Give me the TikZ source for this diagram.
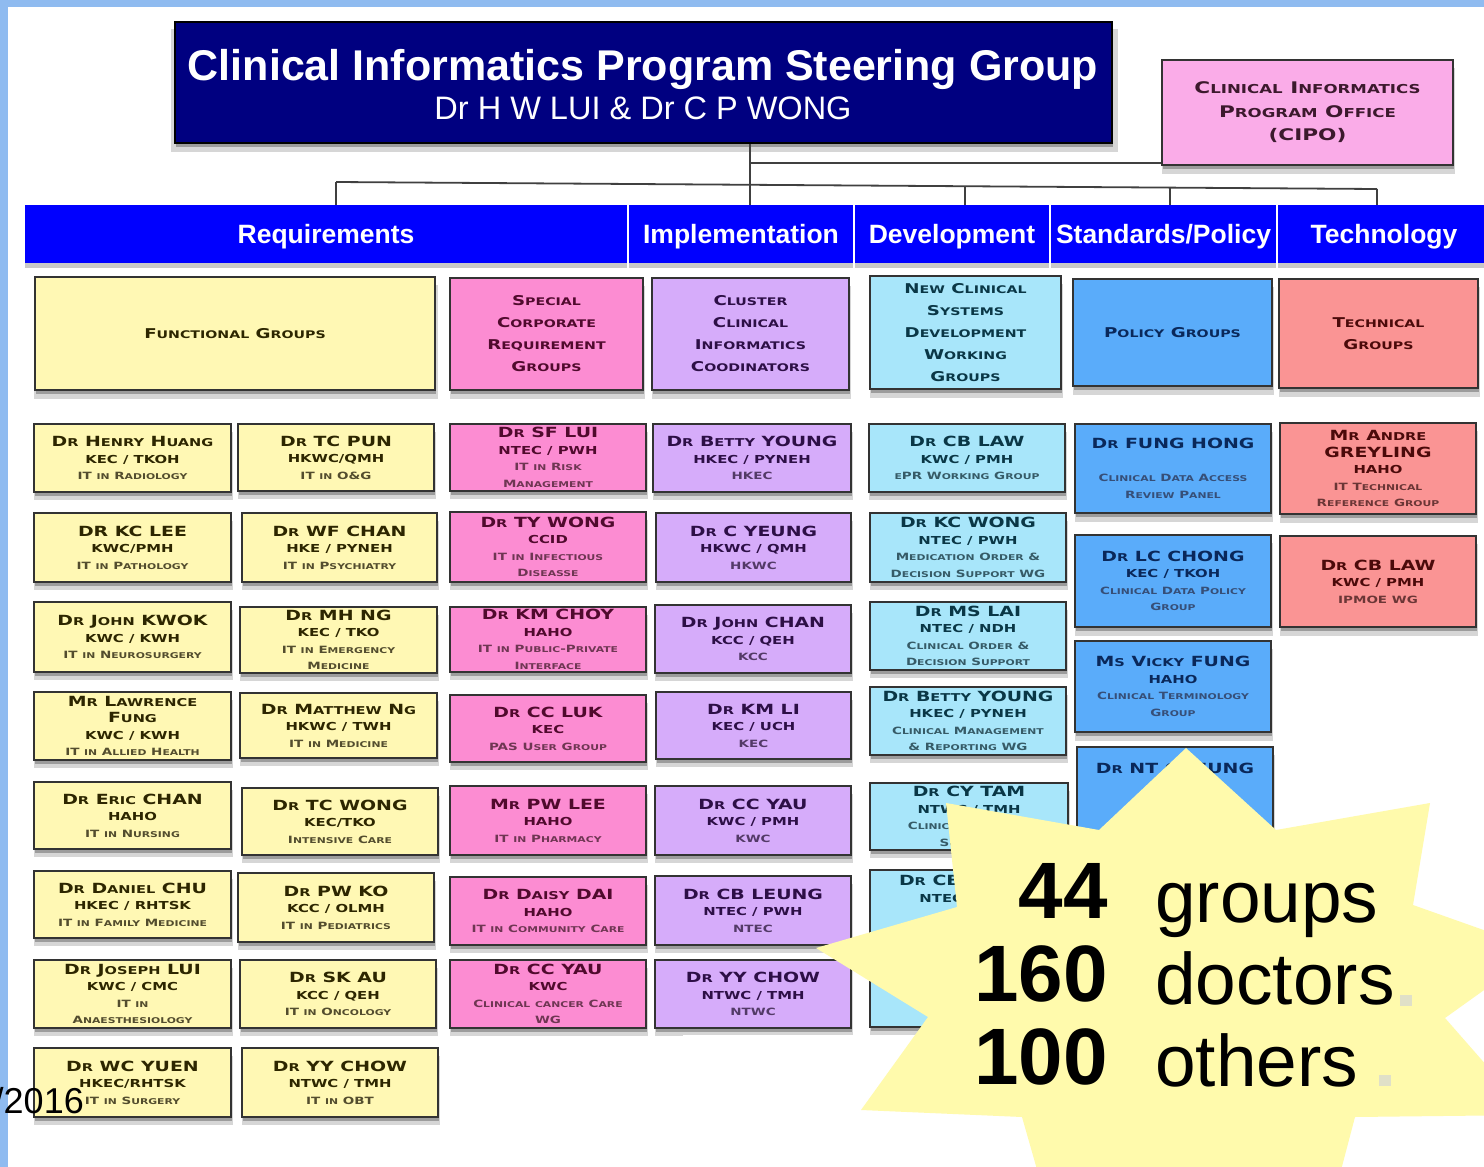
\documentclass[tikz,border=0pt]{standalone}
\usepackage{fontspec}
\setmainfont{Liberation Sans}
\newfontfamily\cpfont{DejaVu Sans}[FakeStretch=1.35]
\usetikzlibrary{shadows,calc}

% palette
\definecolor{frameblue}{RGB}{143,187,240}
\definecolor{navy}{RGB}{0,0,128}
\definecolor{barblue}{RGB}{0,0,255}
\definecolor{cYel}{RGB}{255,248,180}\definecolor{tYel}{RGB}{45,38,0}
\definecolor{cPnk}{RGB}{252,140,210}\definecolor{tPnk}{RGB}{80,10,45}
\definecolor{cLav}{RGB}{214,172,250}\definecolor{tLav}{RGB}{45,15,70}
\definecolor{cCyn}{RGB}{168,230,250}\definecolor{tCyn}{RGB}{10,55,70}
\definecolor{cBlu}{RGB}{90,172,250}\definecolor{tBlu}{RGB}{10,40,90}
\definecolor{cSal}{RGB}{250,148,148}\definecolor{tSal}{RGB}{75,10,10}
\definecolor{cCipo}{RGB}{250,172,232}\definecolor{tCipo}{RGB}{60,25,45}
\definecolor{starfill}{RGB}{255,250,172}
\definecolor{dotgrey}{RGB}{224,224,200}

% small-caps emulation: capitals stay full size, lower case letters
% are set as smaller capitals
\def\Sc#1{\scW#1 \scEnd}
\def\scW#1 #2\scEnd{\scC#1\scEnd\ifx\relax#2\relax\else\space\scW#2\scEnd\fi}
\def\scC#1#2\scEnd{%
  \ifcat a\noexpand#1%
    \ifnum`#1=\lccode`#1\relax{\scsm\uppercase{#1}}\else#1\fi
  \else#1\fi
  \ifx\relax#2\relax\else\scC#2\scEnd\fi}
\def\bls{16.5}
\newcommand\Lx[3]{{\fontsize{#1}{\bls}\selectfont\def\scsm{\fontsize{#2}{\bls}\selectfont}\Sc{#3}}}
\newcommand\La[1]{\Lx{14}{10.8}{#1}}
\newcommand\Lb[1]{\Lx{11}{8.6}{#1}}
\newcommand\Lc[1]{{\color{.!82!white}\Lx{10}{8}{#1}}}
\newcommand\Lh[1]{\Lx{13.5}{10.5}{#1}}

% a box given by its corners
\newcommand\card[7]{%
  \pgfmathsetmacro\cw{#5-#3}%
  \pgfmathsetmacro\ch{#6-#4}%
  \node[#2, minimum width=\cw pt, minimum height=\ch pt] (#1) at ({(#3+#5)/2},{(#4+#6)/2}) {#7};}

\begin{document}
\begin{tikzpicture}[x=1pt,y=-1pt,
  shd/.style={drop shadow={shadow xshift=1pt, shadow yshift=-4pt, opacity=.38, fill=black!70},
              drop shadow={shadow xshift=1pt, shadow yshift=-8pt, opacity=.16, fill=black, shadow scale=1.01}},
  card/.style={draw=black!80, line width=1.8pt, shd, inner sep=0pt, align=center,
               font={\cpfont\bfseries\fontsize{11}{16.5}\selectfont}},
  hdr/.style={card, font={\cpfont\bfseries\fontsize{13.5}{22}\selectfont\def\bls{22}}},
  yel/.style={card, fill=cYel, text=tYel},
  pnk/.style={card, fill=cPnk, text=tPnk},
  lav/.style={card, fill=cLav, text=tLav},
  cyn/.style={card, fill=cCyn, text=tCyn},
  blu/.style={card, fill=cBlu, text=tBlu},
  sal/.style={card, fill=cSal, text=tSal},
  bar/.style={fill=barblue, text=white, inner sep=0pt, text height=19pt, text depth=1pt,
              font=\bfseries\fontsize{26.5}{27}\selectfont,
              drop shadow={shadow xshift=0pt, shadow yshift=-5pt, opacity=.3, fill=black!70}},
  conn/.style={draw=black!75, line width=1.8pt},
  big/.style={inner sep=0pt, text=black}
]
\useasboundingbox (0,0) rectangle (1484,1167);
\fill[white] (0,0) rectangle (1484,1167);
\fill[frameblue] (0,0) rectangle (1484,7);
\fill[frameblue] (0,0) rectangle (8,1167);

% steering group and programme office
\card{title}{draw=black, line width=1.8pt, fill=navy, shd}{175}{22}{1112}{143}{}
\node[anchor=base, text=white, font=\bfseries\fontsize{43}{43}\selectfont] (ttl) at (643,80)
  {Clinical Informatics Program Steering Group};
\node[anchor=base, text=white, font=\fontsize{32.5}{33}\selectfont] (sub) at (643,119)
  {Dr H W LUI \& Dr C P WONG};
\card{cipo}{card, fill=cCipo, text=tCipo, font={\cpfont\bfseries\fontsize{16}{23.5}\selectfont\def\bls{23.5}}}{1162}{60}{1453}{165}
  {\Lx{16}{12.3}{Clinical Informatics}\\\Lx{16}{12.3}{Program Office}\\\Lx{16}{12.3}{(CIPO)}}

% section bar
\card{req}{bar}{25}{205}{627}{263}{Requirements}
\card{imp}{bar}{629}{205}{853}{263}{Implementation}
\card{dev}{bar}{855}{205}{1049}{263}{Development}
\card{std}{bar}{1051}{205}{1276}{263}{Standards/Policy}
\card{tech}{bar}{1278}{205}{1490}{263}{Technology}

% connectors
\coordinate (jc) at (750,163);
\coordinate (busL) at (336,182);
\coordinate (busR) at (1377,189);
\coordinate (bd) at (965,186.2);
\coordinate (bs) at (1170,187.6);
\draw[conn] (title.south -| jc) -- (jc |- imp.north);
\draw[conn] (jc) -- (jc -| cipo.west);
\draw[conn] (busL) -- (busR);
\draw[conn] (busL) -- (busL |- req.north);
\draw[conn] (bd) -- (bd |- dev.north);
\draw[conn] (bs) -- (bs |- std.north);
\draw[conn] (busR) -- (busR |- tech.north);

% group headings
\card{fg}{hdr, fill=cYel, text=tYel}{35}{277}{435}{390}{\Lh{Functional Groups}}
\card{scr}{hdr, fill=cPnk, text=tPnk}{450}{278}{643}{390}{\Lh{Special}\\\Lh{Corporate}\\\Lh{Requirement}\\\Lh{Groups}}
\card{ccic}{hdr, fill=cLav, text=tLav}{652}{278}{849}{390}{\Lh{Cluster}\\\Lh{Clinical}\\\Lh{Informatics}\\\Lh{Coodinators}}
\card{ncs}{hdr, fill=cCyn, text=tCyn}{870}{276}{1061}{389}{\Lh{New Clinical}\\\Lh{Systems}\\\Lh{Development}\\\Lh{Working}\\\Lh{Groups}}
\card{pg}{hdr, fill=cBlu, text=tBlu}{1073}{279}{1272}{386}{\Lh{Policy Groups}}
\card{tg}{hdr, fill=cSal, text=tSal}{1279}{279}{1478}{388}{\Lh{Technical}\\\Lh{Groups}}

% functional groups
\card{hh}{yel}{34}{424}{231}{492}{\La{Dr Henry Huang}\\\Lb{KEC / TKOH}\\\Lc{IT in Radiology}}
\card{kcl}{yel}{34}{513}{231}{582}{\La{DR KC LEE}\\\Lb{KWC/PMH}\\\Lc{IT in Pathology}}
\card{jk}{yel}{34}{602}{231}{672}{\La{Dr John KWOK}\\\Lb{KWC / KWH}\\\Lc{IT in Neurosurgery}}
\card{lf}{yel}{34}{692}{231}{760}{\La{Mr Lawrence}\\\La{Fung}\\\Lb{KWC / KWH}\\\Lc{IT in Allied Health}}
\card{ec}{yel}{34}{782}{231}{849}{\La{Dr Eric CHAN}\\\Lb{HAHO}\\\Lc{IT in Nursing}}
\card{dc}{yel}{34}{871}{231}{938}{\La{Dr Daniel CHU}\\\Lb{HKEC / RHTSK}\\\Lc{IT in Family Medicine}}
\card{jl}{yel}{34}{960}{231}{1028}{\La{Dr Joseph LUI}\\\Lb{KWC / CMC}\\\Lc{IT in}\\\Lc{Anaesthesiology}}
\card{wcy}{yel}{34}{1048}{231}{1117}{\La{Dr WC YUEN}\\\Lb{HKEC/RHTSK}\\\Lc{IT in Surgery}}
\card{tcp}{yel}{238}{424}{434}{491}{\La{Dr TC PUN}\\\Lb{HKWC/QMH}\\\Lc{IT in O\&G}}
\card{wfc}{yel}{242}{513}{437}{582}{\La{Dr WF CHAN}\\\Lb{HKE / PYNEH}\\\Lc{IT in Psychiatry}}
\card{mhn}{yel}{240}{607}{437}{673}{\La{Dr MH NG}\\\Lb{KEC / TKO}\\\Lc{IT in Emergency}\\\Lc{Medicine}}
\card{mn}{yel}{240}{693}{437}{758}{\La{Dr Matthew Ng}\\\Lb{HKWC / TWH}\\\Lc{IT in Medicine}}
\card{tcw}{yel}{242}{788}{438}{855}{\La{Dr TC WONG}\\\Lb{KEC/TKO}\\\Lc{Intensive Care}}
\card{pwk}{yel}{238}{873}{434}{942}{\La{Dr PW KO}\\\Lb{KCC / OLMH}\\\Lc{IT in Pediatrics}}
\card{ska}{yel}{240}{960}{436}{1028}{\La{Dr SK AU}\\\Lb{KCC / QEH}\\\Lc{IT in Oncology}}
\card{yyc}{yel}{242}{1048}{438}{1117}{\La{Dr YY CHOW}\\\Lb{NTWC / TMH}\\\Lc{IT in OBT}}

% special corporate requirement groups
\card{sfl}{pnk}{450}{424}{646}{491}{\La{Dr SF LUI}\\\Lb{NTEC / PWH}\\\Lc{IT in Risk}\\\Lc{Management}}
\card{tyw}{pnk}{450}{512}{646}{582}{\La{Dr TY WONG}\\\Lb{CCID}\\\Lc{IT in Infectious}\\\Lc{Diseasse}}
\card{kmc}{pnk}{450}{607}{646}{672}{\La{Dr KM CHOY}\\\Lb{HAHO}\\\Lc{IT in Public-Private}\\\Lc{Interface}}
\card{ccl}{pnk}{450}{695}{646}{762}{\La{Dr CC LUK}\\\Lb{KEC}\\\Lc{PAS User Group}}
\card{pwl}{pnk}{450}{786}{646}{855}{\La{Mr PW LEE}\\\Lb{HAHO}\\\Lc{IT in Pharmacy}}
\card{dd}{pnk}{450}{877}{646}{945}{\La{Dr Daisy DAI}\\\Lb{HAHO}\\\Lc{IT in Community Care}}
\card{ccy}{pnk}{450}{960}{646}{1028}{\La{Dr CC YAU}\\\Lb{KWC}\\\Lc{Clinical cancer Care}\\\Lc{WG}}

% cluster coordinators
\card{by}{lav}{653}{424}{851}{492}{\La{Dr Betty YOUNG}\\\Lb{HKEC / PYNEH}\\\Lc{HKEC}}
\card{cy}{lav}{656}{513}{851}{582}{\La{Dr C YEUNG}\\\Lb{HKWC / QMH}\\\Lc{HKWC}}
\card{jc2}{lav}{655}{605}{851}{673}{\La{Dr John CHAN}\\\Lb{KCC / QEH}\\\Lc{KCC}}
\card{kml}{lav}{656}{692}{851}{759}{\La{Dr KM LI}\\\Lb{KEC / UCH}\\\Lc{KEC}}
\card{ccy2}{lav}{655}{786}{851}{855}{\La{Dr CC YAU}\\\Lb{KWC / PMH}\\\Lc{KWC}}
\card{cbl}{lav}{655}{876}{851}{945}{\La{Dr CB LEUNG}\\\Lb{NTEC / PWH}\\\Lc{NTEC}}
\card{yyc2}{lav}{655}{960}{851}{1028}{\La{Dr YY CHOW}\\\Lb{NTWC / TMH}\\\Lc{NTWC}}

% development working groups
\card{cbl1}{cyn}{869}{424}{1065}{492}{\La{Dr CB LAW}\\\Lb{KWC / PMH}\\\Lc{ePR Working Group}}
\card{kcw}{cyn}{870}{513}{1066}{582}{\La{Dr KC WONG}\\\Lb{NTEC / PWH}\\\Lc{Medication Order \&}\\\Lc{Decision Support WG}}
\card{msl}{cyn}{870}{602}{1066}{670}{\La{Dr MS LAI}\\\Lb{NTEC / NDH}\\\Lc{Clinical Order \&}\\\Lc{Decision Support}}
\card{by2}{cyn}{870}{687}{1066}{755}{\La{Dr Betty YOUNG}\\\Lb{HKEC / PYNEH}\\\Lc{Clinical Management}\\\Lc{\& Reporting WG}}
\card{cyt}{cyn}{870}{783}{1068}{850}{\La{Dr CY TAM}\\\Lb{NTWC / TMH}\\\Lc{Clinical Decision}\\\Lc{Support}}
\card{cbx}{cyn}{870}{870}{1068}{1027}{}
\node[anchor=north, inner sep=0pt, align=center, text=tCyn,
      font={\cpfont\bfseries\fontsize{11}{16.5}\selectfont}] (cbxt) at ($(cbx.north)+(0,6)$)
  {\La{Dr CB LEUNG}\\\Lb{NTEC / PWH}};

% policy groups
\card{fh}{blu}{1075}{424}{1271}{513}{\La{Dr FUNG HONG}\\ \\\Lc{Clinical Data Access}\\\Lc{Review Panel}}
\card{lcc}{blu}{1075}{535}{1271}{627}{\La{Dr LC CHONG}\\\Lb{KEC / TKOH}\\\Lc{Clinical Data Policy}\\\Lc{Group}}
\card{vf}{blu}{1075}{641}{1271}{732}{\La{Ms Vicky FUNG}\\\Lb{HAHO}\\\Lc{Clinical Terminology}\\\Lc{Group}}
\card{ntc}{blu}{1077}{747}{1273}{840}{\La{Dr NT CHEUNG}\\\Lb{HAHO}\\\Lc{Data}\\\Lc{Standards}}

% technical groups
\card{ag}{sal}{1280}{423}{1476}{514}{\La{Mr Andre}\\\La{GREYLING}\\\Lb{HAHO}\\\Lc{IT Technical}\\\Lc{Reference Group}}
\card{cbl2}{sal}{1280}{536}{1476}{627}{\La{Dr CB LAW}\\\Lb{KWC / PMH}\\\Lc{IPMOE WG}}

\fill[white] (683,1035) rectangle (1000,1167);

% date fragment
\node[anchor=base east, inner sep=0pt, font=\fontsize{36}{36}\selectfont] (date) at (84,1113) {/2016};

% summary burst
\fill[starfill] (1186,748) -- (1276,830) -- (1430,803) -- (1413,905) -- (1540,950)
  -- (1445,1018) -- (1530,1115) -- (1355,1117) -- (1320,1250) -- (1060,1250)
  -- (1022,1117) -- (861,1110) -- (928,1017) -- (816,948) -- (957,907)
  -- (946,803) -- (1099,830) -- cycle;
\fill[dotgrey] (1400,995) rectangle (1412,1006);
\fill[dotgrey] (1379,1075) rectangle (1391,1086);
\node[big, anchor=base east, font=\bfseries\fontsize{80}{80}\selectfont] (n44) at (1108,918) {44};
\node[big, anchor=base east, font=\bfseries\fontsize{80}{80}\selectfont] (n160) at (1108,1001) {160};
\node[big, anchor=base east, font=\bfseries\fontsize{80}{80}\selectfont] (n100) at (1108,1084) {100};
\node[big, anchor=base west, font=\fontsize{73}{73}\selectfont] (wg) at (1155,922) {groups};
\node[big, anchor=base west, font=\fontsize{73}{73}\selectfont] (wd) at (1155,1004) {doctors};
\node[big, anchor=base west, font=\fontsize{73}{73}\selectfont] (wo) at (1155,1086) {others};
\end{tikzpicture}
\end{document}
